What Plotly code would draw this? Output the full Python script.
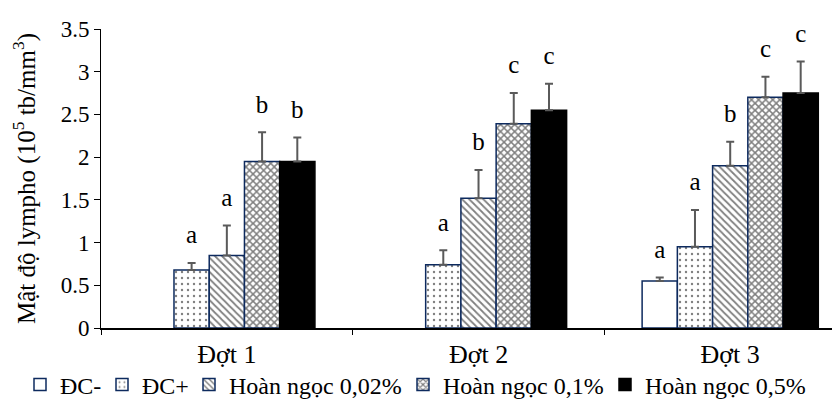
import plotly.graph_objects as go

categories = ["Đợt 1", "Đợt 2", "Đợt 3"]
series_names = ["ĐC-", "ĐC+", "Hoàn ngọc 0,02%", "Hoàn ngọc 0,1%", "Hoàn ngọc 0,5%"]
dc_minus = [None, None, 0.55]
dc_plus = [0.68, 0.74, 0.95]
hn_002 = [0.85, 1.52, 1.90]
hn_01 = [1.95, 2.39, 2.70]
hn_05 = [1.95, 2.55, 2.75]
err_dc_minus = [0, 0, 0.04]
err_dc_plus = [0.08, 0.17, 0.43]
err_hn_002 = [0.35, 0.33, 0.28]
err_hn_01 = [0.34, 0.36, 0.24]
err_hn_05 = [0.28, 0.31, 0.37]
letters_dc_minus = ["", "", "a"]
letters_dc_plus = ["a", "a", "a"]
letters_hn_002 = ["a", "b", "b"]
letters_hn_01 = ["b", "c", "c"]
letters_hn_05 = ["b", "c", "c"]

values = [dc_minus, dc_plus, hn_002, hn_01, hn_05]
errors = [err_dc_minus, err_dc_plus, err_hn_002, err_hn_01, err_hn_05]
letters = [letters_dc_minus, letters_dc_plus, letters_hn_002, letters_hn_01, letters_hn_05]

NAVY = "#0d2a5e"
styles = [
    dict(color="white", pattern=dict(shape="")),
    dict(color="white", pattern=dict(shape=".", fgcolor="black", bgcolor="white", size=6, solidity=0.12)),
    dict(color="white", pattern=dict(shape="\\", fgcolor="black", bgcolor="white", size=5, solidity=0.35)),
    dict(color="white", pattern=dict(shape="x", fgcolor="black", bgcolor="white", size=5, solidity=0.5)),
    dict(color="black", pattern=dict(shape="")),
]
line_colors = [NAVY, NAVY, NAVY, NAVY, "black"]
legend_ids = ["legend", "legend2", "legend3", "legend4", "legend5"]
legend_text_left = [60, 142, 229, 443, 645]  # px where each legend label starts

FONT = "Liberation Serif"
W, H = 840, 410
fig = go.Figure()
for i, name in enumerate(series_names):
    fig.add_trace(go.Bar(
        x=categories, y=values[i], name=name, offsetgroup=str(i), legend=legend_ids[i],
        marker=dict(color=styles[i]["color"], pattern=styles[i]["pattern"],
                    line=dict(color=line_colors[i], width=1.5)),
        error_y=dict(type="data", symmetric=False, array=errors[i],
                     arrayminus=[0, 0, 0], color="#5a5a5a", thickness=2, width=4),
    ))
for i, name in enumerate(series_names):
    tops = [None if v is None else v + e for v, e in zip(values[i], errors[i])]
    fig.add_trace(go.Scatter(
        x=categories, y=tops, mode="markers+text", text=letters[i], offsetgroup=str(i),
        marker=dict(size=20, opacity=0),
        textposition="top center", textfont=dict(family=FONT, size=25, color="black"),
        showlegend=False, hoverinfo="skip", cliponaxis=False,
    ))

legend_layouts = {}
for i, lid in enumerate(legend_ids):
    legend_layouts[lid] = dict(
        orientation="h", xref="container", yref="container",
        x=(legend_text_left[i] - 48) / W, xanchor="left", y=1 - 377 / H, yanchor="middle",
        bgcolor="rgba(0,0,0,0)", font=dict(family=FONT, size=24, color="black"))

fig.update_layout(
    width=W, height=H,
    margin=dict(l=93, r=0, t=21, b=90),
    plot_bgcolor="white", paper_bgcolor="white",
    barmode="group", bargap=0.3, bargroupgap=0, scattermode="group", scattergap=0.3,
    font=dict(family=FONT, size=22, color="black"),
    xaxis=dict(range=[-0.5, 2.468], showline=True, linecolor="black", linewidth=2,
               ticks="outside", tickson="boundaries", ticklen=5, tickcolor="black",
               tickfont=dict(family=FONT, size=26, color="black"), ticklabelstandoff=2,
               fixedrange=True, automargin=False),
    yaxis=dict(range=[0, 3.5], dtick=0.5, showline=True, linecolor="black", linewidth=1,
               ticks="outside", ticklen=6, tickcolor="black", showgrid=False, zeroline=False,
               tickfont=dict(family=FONT, size=23, color="black"), automargin=False,
               title=dict(text="Mật độ lympho (10<sup>5</sup> tb/mm<sup>3</sup>)",
                          font=dict(family=FONT, size=25, color="black"), standoff=34)),
    **legend_layouts,
)
fig.write_html("out.html")
